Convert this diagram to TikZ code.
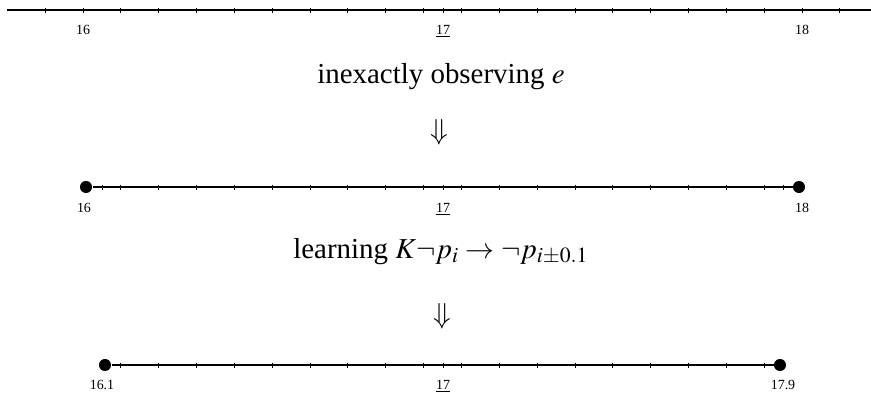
\documentclass[tikz,border=0pt]{standalone}
\usepackage{mathptmx}
\usepackage[no-math]{fontspec}
\setmainfont{Liberation Serif}
\usepackage{tikz}
\usetikzlibrary{positioning}

\begin{document}
\begin{tikzpicture}[x=0.415pt,y=-0.415pt,
    numline/.style={line width=0.6pt},
    tick/.style={line width=0.35pt},
    endpt/.style={circle,fill=black,inner sep=0pt,minimum size=5pt},
    lbl/.style={anchor=base,font=\fontsize{5.8}{7}\selectfont,inner sep=0pt},
    caption/.style={anchor=base,font=\fontsize{12}{14}\selectfont,inner sep=0pt}]
  \useasboundingbox (0,0) rectangle (871,394);

  % before observing
  \coordinate (a0) at (7,10);
  \coordinate (a1) at (871,10);
  \draw[numline] (a0) -- (a1);
  \foreach \k in {-1,...,20}
    \draw[tick] (83+37.84*\k,7.5) -- (83+37.84*\k,12.5);
  \draw[tick] (443,7.5) -- (443,12.5);
  \node[lbl] (a16) at (83,34) {16};
  \node[lbl] (a17) at (443,34) {\underline{17}};
  \node[lbl] (a18) at (802,34) {18};

  \node[caption] (obs) at (441,83) {inexactly observing $e$};
  \node[font=\fontsize{12}{14}\selectfont] (d1) at (439,132) {$\Downarrow$};

  % after observing
  \node[endpt] (b0) at (86,187) {};
  \node[endpt] (b1) at (799,187) {};
  \draw[numline] (b0) -- (b1);
  \foreach \x in {102,443,783}
    \draw[tick] (\x,184.5) -- (\x,189.5);
  \foreach \k in {1,...,18}
    \draw[tick] (83+37.84*\k,184.5) -- (83+37.84*\k,189.5);
  \node[lbl] (b16) at (84,212) {16};
  \node[lbl] (b17) at (443,212) {\underline{17}};
  \node[lbl] (b18) at (802,212) {18};

  \node[caption] (learn) at (441,258) {learning $K\neg p_i \to \neg p_{i\pm 0.1}$};
  \node[font=\fontsize{12}{14}\selectfont] (d2) at (442,316) {$\Downarrow$};

  % after learning
  \node[endpt] (c0) at (105,365) {};
  \node[endpt] (c1) at (780,365) {};
  \draw[numline] (c0) -- (c1);
  \draw[tick] (443,362.5) -- (443,367.5);
  \foreach \k in {1,...,18}
    \draw[tick] (83+37.84*\k,362.5) -- (83+37.84*\k,367.5);
  \node[lbl] (c16) at (102,389) {16.1};
  \node[lbl] (c17) at (443,389) {\underline{17}};
  \node[lbl] (c18) at (783,389) {17.9};
\end{tikzpicture}
\end{document}
